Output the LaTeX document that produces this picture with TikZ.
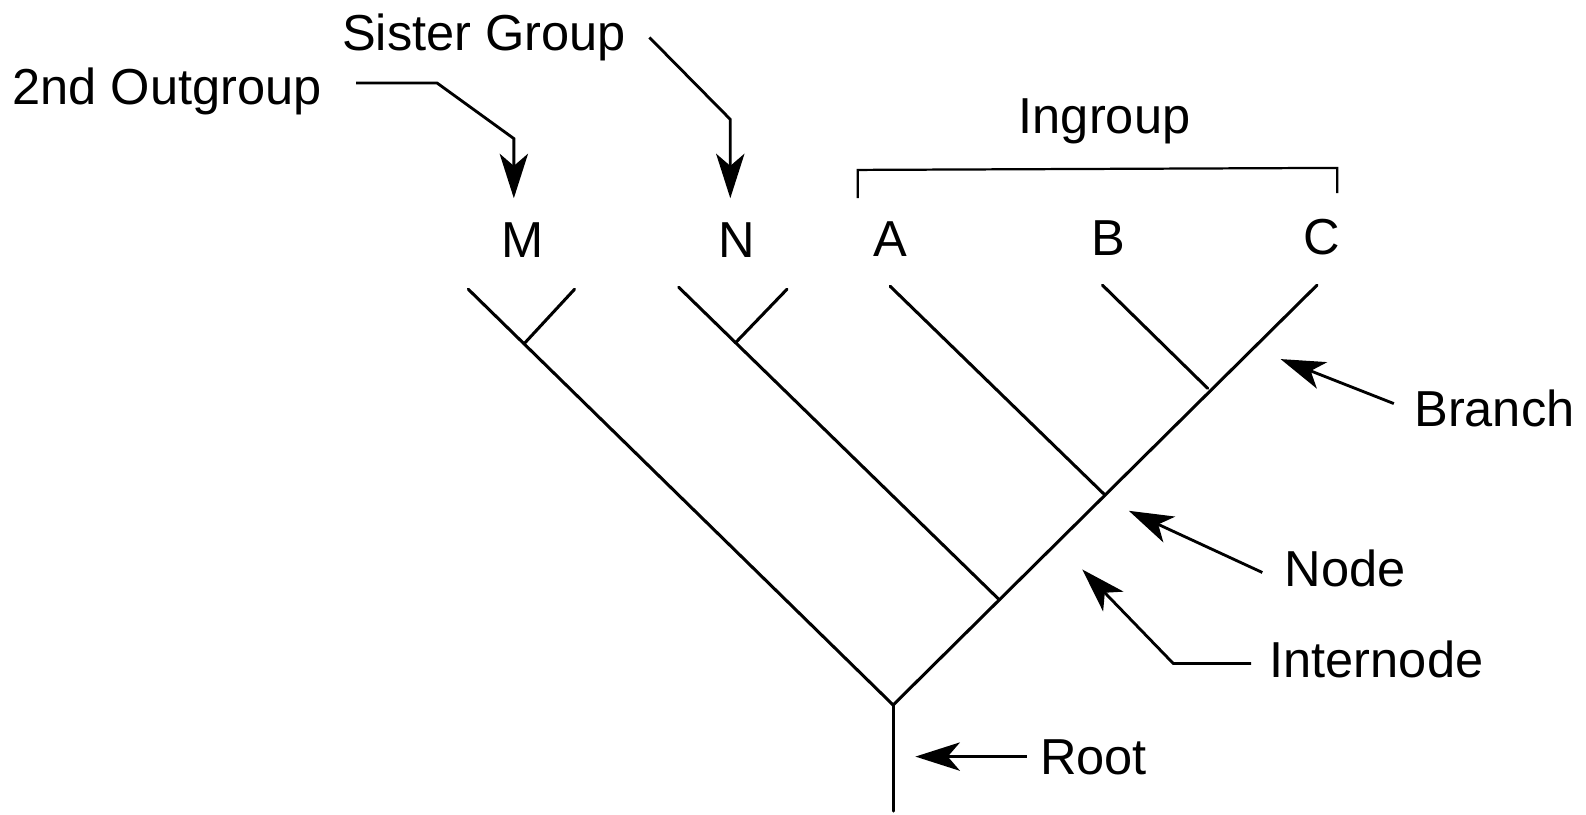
\documentclass[tikz,border=0pt]{standalone}
\usepackage{fontspec}
\setmainfont{Liberation Sans}
\usetikzlibrary{arrows.meta}
\begin{document}
\begin{tikzpicture}[x=1pt,y=-1pt,
  tree/.style={line width=3pt, line cap=round},
  lbl/.style={font=\fontsize{50}{60}\selectfont, inner sep=0pt},
  pointer/.style={line width=2.8pt, line join=miter, -{Stealth[length=44pt,width=28pt,inset=12pt]}},
  brack/.style={line width=2.2pt}]
\useasboundingbox (0,0) rectangle (1568,805);
% tree coordinates
\coordinate (R0) at (883,802);
\coordinate (R) at (883,697);
\coordinate (Ltop) at (463,286);
\coordinate (Mj) at (518,340);
\coordinate (Mtw) at (568,286);
\coordinate (Nj) at (988,593);
\coordinate (Ntop) at (671,284);
\coordinate (Nk) at (727,339);
\coordinate (Ntw) at (778,286);
\coordinate (Aj) at (1092,489);
\coordinate (Atop) at (880,283);
\coordinate (Bj) at (1194,384);
\coordinate (Btop) at (1090,282);
\coordinate (Ctop) at (1302,282);
% tree
\draw[tree] (R0) -- (R);
\draw[tree] (R) -- (Ltop);
\draw[tree] (R) -- (Ctop);
\draw[tree] (Mj) -- (Mtw);
\draw[tree] (Nj) -- (Ntop);
\draw[tree] (Nk) -- (Ntw);
\draw[tree] (Aj) -- (Atop);
\draw[tree] (Bj) -- (Btop);
% taxon letters
\node[lbl, anchor=base] (M) at (517,255) {M};
\node[lbl, anchor=base] (N) at (728,255) {N};
\node[lbl, anchor=base] (A) at (880,254) {A};
\node[lbl, anchor=base] (B) at (1096,253) {B};
\node[lbl, anchor=base] (C) at (1307,252) {C};
% labels
\node[lbl, anchor=base west] (sg) at (338,50) {Sister Group};
\node[lbl, anchor=base west] (og) at (12,103) {2nd Outgroup};
\node[lbl, anchor=base] (ing) at (1092,132) {Ingroup};
\node[lbl, anchor=base west] (br) at (1398,422) {Branch};
\node[lbl, anchor=base west] (nd) at (1270,580) {Node};
\node[lbl, anchor=base west] (in) at (1255,670) {Internode};
\node[lbl, anchor=base west] (rt) at (1028,766) {Root};
% bracket
\coordinate (b1) at (848,196);
\coordinate (b2) at (848,168);
\coordinate (b3) at (1322,166);
\coordinate (b4) at (1322,191);
\draw[brack] (b1) -- (b2) -- (b3) -- (b4);
% pointers
\coordinate (og1) at (352,82);
\coordinate (og2) at (432,82);
\coordinate (og3) at (508,137);
\coordinate (og4) at (508,196);
\draw[pointer] (og1) -- (og2) -- (og3) -- (og4);
\coordinate (sg1) at (642,37);
\coordinate (sg2) at (722,118);
\coordinate (sg3) at (722,196);
\draw[pointer] (sg1) -- (sg2) -- (sg3);
\coordinate (br1) at (1378,399);
\coordinate (br2) at (1266,355);
\draw[pointer] (br1) -- (br2);
\coordinate (nd1) at (1248,566);
\coordinate (nd2) at (1116,505);
\draw[pointer] (nd1) -- (nd2);
\coordinate (in1) at (1237,656);
\coordinate (in2) at (1160,656);
\coordinate (in3) at (1070,563);
\draw[pointer] (in1) -- (in2) -- (in3);
\coordinate (rt1) at (1015,748);
\coordinate (rt2) at (905,748);
\draw[pointer] (rt1) -- (rt2);
\end{tikzpicture}
\end{document}
